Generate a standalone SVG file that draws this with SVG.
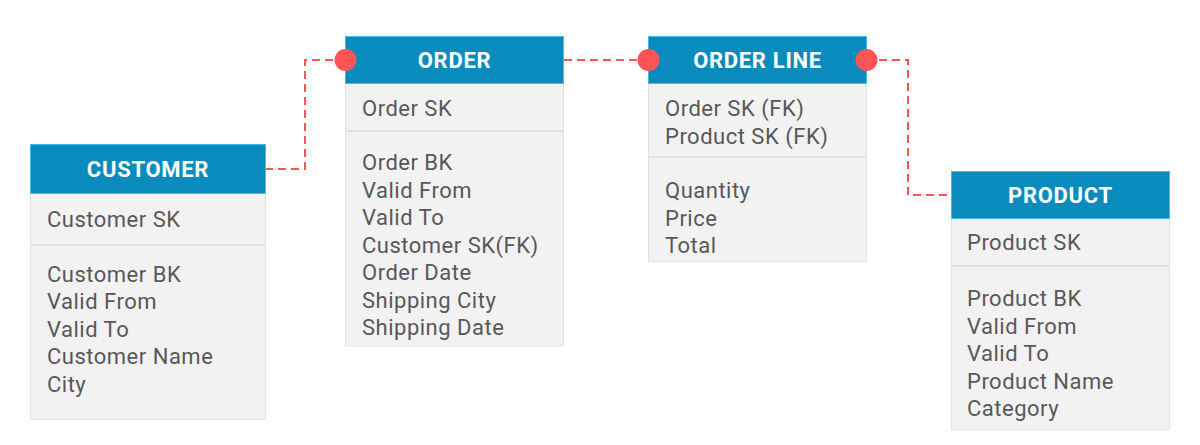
<svg xmlns="http://www.w3.org/2000/svg" width="1200" height="445" viewBox="0 0 1200 445">
<style>
.body{fill:#f2f2f2;stroke:#e2e2e2;stroke-width:1}
.hdr{fill:#0a8bbd;stroke:#3dbde8;stroke-width:1}
.div{stroke:#e2e2e2;stroke-width:2}
.ht{font-family:Roboto,"Liberation Sans",sans-serif;font-weight:bold;font-size:22px;letter-spacing:0.7px;fill:#ffffff;text-anchor:middle}
.t{font-family:Roboto,"Liberation Sans",sans-serif;font-size:22px;letter-spacing:0.5px;fill:#585858}
.conn{fill:none;stroke:#ff5555;stroke-width:2;stroke-dasharray:8 5}
.dot{fill:#ff5555}
</style>
<rect width="1200" height="445" fill="#ffffff"/>
<g id="connectors">
<path class="conn" d="M265,169 H305 V60 H345"/>
<path class="conn" d="M564,60 H648"/>
<path class="conn" d="M866,60 H908 V195 H951"/>
</g>
<g id="customer">
<rect class="body" x="30.5" y="144.5" width="235" height="275"/>
<line class="div" x1="31" y1="245" x2="265" y2="245"/>
<rect class="hdr" x="30.5" y="144.5" width="235" height="49"/>
<text class="ht" x="148" y="177">CUSTOMER</text>
<text class="t" x="47" y="226.5">Customer SK</text>
<text class="t" x="47" y="281.5">Customer BK</text>
<text class="t" x="47" y="309">Valid From</text>
<text class="t" x="47" y="336.5">Valid To</text>
<text class="t" x="47" y="364">Customer Name</text>
<text class="t" x="47" y="391.5">City</text>
</g>
<g id="order">
<rect class="body" x="345.5" y="36.5" width="218" height="309.5"/>
<line class="div" x1="346" y1="131" x2="563" y2="131"/>
<rect class="hdr" x="345.5" y="36.5" width="218" height="47"/>
<text class="ht" x="454.5" y="68">ORDER</text>
<text class="t" x="362" y="116">Order SK</text>
<text class="t" x="362" y="170">Order BK</text>
<text class="t" x="362" y="197.5">Valid From</text>
<text class="t" x="362" y="225">Valid To</text>
<text class="t" x="362" y="252.5">Customer SK(FK)</text>
<text class="t" x="362" y="280">Order Date</text>
<text class="t" x="362" y="307.5">Shipping City</text>
<text class="t" x="362" y="335">Shipping Date</text>
<circle class="dot" cx="345.5" cy="60" r="11"/>
</g>
<g id="order-line">
<rect class="body" x="648.5" y="36.5" width="218" height="225"/>
<line class="div" x1="649" y1="157" x2="866" y2="157"/>
<rect class="hdr" x="648.5" y="36.5" width="218" height="47"/>
<text class="ht" x="757.5" y="68">ORDER LINE</text>
<text class="t" x="665" y="116">Order SK (FK)</text>
<text class="t" x="665" y="143.5">Product SK (FK)</text>
<text class="t" x="665" y="198">Quantity</text>
<text class="t" x="665" y="225.5">Price</text>
<text class="t" x="665" y="253">Total</text>
<circle class="dot" cx="648.5" cy="60" r="11"/>
<circle class="dot" cx="866.5" cy="60" r="11"/>
</g>
<g id="product">
<rect class="body" x="951.5" y="171.5" width="218" height="258.5"/>
<line class="div" x1="952" y1="266" x2="1169" y2="266"/>
<rect class="hdr" x="951.5" y="171.5" width="218" height="47"/>
<text class="ht" x="1060.5" y="203">PRODUCT</text>
<text class="t" x="967" y="250">Product SK</text>
<text class="t" x="967" y="306">Product BK</text>
<text class="t" x="967" y="333.5">Valid From</text>
<text class="t" x="967" y="361">Valid To</text>
<text class="t" x="967" y="388.5">Product Name</text>
<text class="t" x="967" y="416">Category</text>
</g>
</svg>
